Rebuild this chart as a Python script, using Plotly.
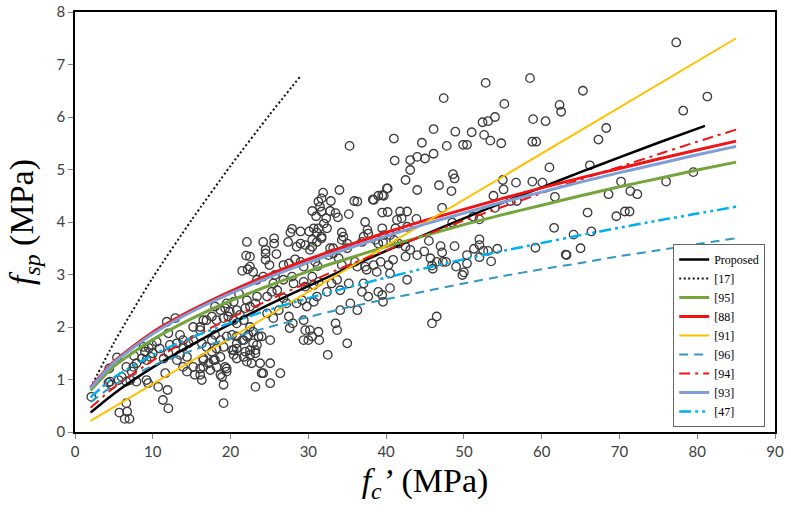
import plotly.graph_objects as go

# ---------------- data ----------------
# Experimental points: f'c (MPa) and f_sp (MPa)
exp_fc = [
    77.3, 65.3, 81.3, 78.2, 68.3, 67.3, 66.2, 79.5, 70.2, 76.0, 71.4, 72.3, 68.6, 65.9, 70.7, 71.3, 69.6, 64.1, 66.4, 65.0, 63.2,
    58.5, 52.8, 47.4, 55.2, 62.3, 62.5, 54.0, 58.9, 60.5, 52.4, 53.1, 46.1, 48.9, 51.0, 52.6, 53.4, 44.6, 47.8, 49.9, 50.4,
    54.8, 58.8, 59.3, 45.0, 46.1, 61.0, 48.6, 48.8, 46.8, 48.4, 55.0, 55.1, 56.7, 58.8, 60.1, 53.8, 61.7, 47.2, 56.8, 56.0,
    54.0, 48.5, 52.0, 51.2, 61.6, 45.5, 52.0, 52.0, 47.0, 47.2, 44.9, 48.8, 51.3, 52.5, 53.1, 54.3, 59.2, 63.1, 50.4, 52.0,
    45.7, 46.5, 47.3, 47.7, 45.9, 46.0, 49.0, 50.4, 53.5, 49.8, 50.0, 46.5, 45.9,
    35.3, 41.0, 41.1, 43.1, 44.0, 43.1, 42.5, 44.0, 34.0, 31.9, 31.7, 31.3, 31.5, 31.7, 32.9, 35.9, 39.0, 39.7, 40.2, 38.3,
    30.5, 31.0, 32.8, 33.5, 32.3, 32.0, 33.8, 35.2, 39.5, 40.2, 41.8, 42.7, 41.4, 42.0, 43.9, 37.3, 27.9, 27.7, 29.0, 30.1,
    30.7, 31.3, 31.1, 31.7, 32.4, 34.3, 34.5, 37.6, 37.7, 39.5, 39.7, 41.2, 42.7, 24.2, 25.6, 25.6, 27.4, 28.5, 29.0, 29.6,
    30.5, 30.5, 31.1, 31.7, 30.2, 32.8, 33.2, 34.3, 35.0, 35.0, 36.9, 37.1, 38.6, 39.0, 39.6, 40.5, 41.0, 41.6, 42.5, 43.1,
    44.0, 42.5, 24.5, 24.5, 25.0, 25.9, 26.8, 27.5, 28.3, 29.0, 29.4, 30.9, 31.2, 32.6, 33.2, 33.9, 34.3, 36.0, 36.3, 37.3,
    37.5, 38.4, 38.8, 39.3, 40.3, 40.9, 40.5, 42.7, 22.5, 22.9, 23.4, 24.2, 25.7, 25.5, 26.0, 26.8, 27.9, 28.1, 29.4, 29.6,
    30.5, 30.7, 31.3, 32.4, 33.0, 33.7, 34.1, 35.2, 36.9, 37.1, 37.7, 39.0, 39.5, 39.6, 40.5, 23.4, 23.2, 24.7, 25.3, 26.8,
    27.2, 28.5, 29.2, 29.8, 30.7, 31.1, 34.1, 35.4, 36.3, 24.7, 25.5, 27.5, 28.0, 27.6, 29.4, 29.6, 30.2, 30.5, 29.4, 30.0,
    31.3, 31.4, 33.5, 33.7, 35.0, 32.5, 22.5, 22.9, 23.6, 23.4, 23.2, 22.5, 22.7, 25.1, 25.1, 24.2, 26.4, 25.1, 23.2, 22.5,
    22.5, 26.2,
    22.0, 21.5, 22.2, 21.1, 20.4, 19.5, 22.1, 18.0, 18.7, 19.3, 19.9, 20.8, 21.2, 21.9, 16.9, 17.6, 18.2, 19.1, 19.7, 20.4,
    20.8, 21.7, 11.8, 12.9, 15.2, 16.1, 12.0, 13.5, 13.9, 10.5, 9.9, 10.9, 12.2, 13.1, 13.9, 14.6, 15.2, 18.0, 17.6, 18.7,
    19.5, 20.2, 20.8, 21.5, 22.1, 16.9, 17.6, 18.2, 19.1, 20.2, 20.8, 21.9, 9.7, 9.2, 8.6, 7.9, 7.5, 6.6, 7.3, 5.4, 4.4,
    5.6, 6.0, 6.6, 7.1, 4.5, 4.7, 7.9, 9.2, 9.4, 10.7, 11.6, 11.9, 11.3, 12.0, 2.1, 6.6, 5.7, 6.4, 7.0, 13.9, 15.2, 16.1,
    14.4, 15.4, 16.5, 17.2, 17.8, 16.5, 17.4, 18.2, 18.7, 19.5, 19.1, 20.4, 20.8, 21.7, 22.1, 19.1, 13.1, 11.4, 9.0, 12.0,
    13.5, 14.4, 4.3, 6.7, 16.5, 16.1, 16.3, 16.5, 16.1, 16.3, 18.0, 18.7, 19.3, 18.9, 19.5, 20.4, 20.8, 21.7, 22.5, 23.2,
    23.8, 24.0, 24.0, 22.9, 22.3, 24.5, 22.1, 40.1, 39.5, 38.4, 36.3, 8.8, 9.5, 10.0, 7.6,
]
exp_fsp = [
    7.42, 6.50, 6.39, 6.12, 5.79, 5.57, 5.08, 4.95, 4.77, 4.77, 4.59, 4.53, 4.53, 4.18, 4.20, 4.20, 4.11, 3.76, 3.82, 3.50, 3.37,
    6.74, 6.65, 6.36, 6.25, 6.23, 6.10, 6.00, 5.96, 5.92, 5.90, 5.92, 5.77, 5.72, 5.71, 5.66, 5.55, 5.51, 5.45, 5.47, 5.47,
    5.50, 5.53, 5.53, 5.21, 5.30, 5.04, 4.91, 4.83, 4.70, 4.59, 4.80, 4.62, 4.75, 4.77, 4.75, 4.50, 4.48, 4.27, 4.40, 4.40,
    4.27, 3.99, 4.05, 4.10, 3.89, 3.64, 3.67, 3.56, 3.54, 3.42, 3.44, 3.54, 3.49, 3.45, 3.45, 3.49, 3.51, 3.38, 3.37, 3.33,
    3.31, 3.24, 3.24, 3.24, 3.17, 3.11, 3.15, 3.21, 3.25, 2.99, 3.04, 2.20, 2.07,
    5.45, 5.59, 5.17, 5.18, 5.24, 4.99, 4.80, 4.61, 4.61, 4.56, 4.45, 4.39, 4.29, 4.20, 4.40, 4.40, 4.50, 4.50, 4.64, 4.43,
    4.21, 4.11, 4.21, 4.17, 4.07, 3.97, 4.09, 4.15, 4.18, 4.19, 4.20, 4.20, 4.04, 4.07, 4.06, 4.00, 3.87, 3.80, 3.82, 3.82,
    3.88, 3.88, 3.80, 3.72, 3.88, 3.80, 3.72, 3.85, 3.78, 3.88, 3.75, 3.88, 3.91, 3.62, 3.69, 3.59, 3.62, 3.53, 3.59, 3.56,
    3.66, 3.53, 3.62, 3.69, 3.47, 3.50, 3.50, 3.66, 3.59, 3.50, 3.62, 3.72, 3.66, 3.59, 3.62, 3.75, 3.66, 3.59, 3.53, 3.47,
    3.37, 3.34, 3.40, 3.28, 3.18, 3.39, 3.18, 3.21, 3.29, 3.24, 3.15, 3.24, 3.16, 3.37, 3.40, 3.31, 3.18, 3.24, 3.15, 3.15,
    3.09, 3.18, 3.05, 3.24, 3.18, 3.28, 3.02, 2.90, 3.15, 3.05, 2.90, 2.96, 2.99, 2.83, 2.70, 2.90, 2.96, 2.83, 2.86, 2.77,
    2.96, 2.80, 2.86, 2.67, 2.83, 2.90, 2.70, 2.83, 2.67, 2.83, 2.58, 2.67, 2.61, 2.48, 2.74, 2.58, 2.45, 2.58, 2.67, 2.55,
    2.45, 2.45, 2.51, 2.39, 2.48, 2.58, 2.32, 2.45, 2.32, 2.26, 2.17, 2.20, 2.07, 1.98, 2.13, 1.94, 1.94, 1.82, 1.75, 1.75,
    1.91, 1.75, 2.07, 1.94, 1.69, 1.47, 2.00, 1.91, 1.82, 1.66, 1.56, 1.47, 1.31, 1.75, 1.31, 1.12, 1.12, 0.93, 0.86, 3.34,
    2.39, 2.32,
    3.36, 3.07, 3.10, 2.63, 2.48, 2.45, 2.51, 2.39, 2.32, 2.36, 2.29, 2.32, 2.23, 2.36, 2.13, 2.20, 2.13, 2.17, 2.20, 2.13,
    2.07, 2.13, 2.10, 2.17, 2.00, 1.94, 1.88, 1.85, 1.75, 1.72, 1.66, 1.59, 1.66, 1.69, 1.62, 1.69, 1.75, 1.85, 1.75, 1.75,
    1.82, 1.85, 1.82, 1.75, 1.82, 1.62, 1.53, 1.59, 1.62, 1.56, 1.59, 1.53, 1.43, 1.37, 1.40, 1.31, 1.24, 1.24, 1.15, 1.42, 1.21,
    0.99, 1.05, 0.96, 0.99, 0.96, 0.90, 0.96, 0.99, 0.93, 0.86, 1.12, 0.80, 0.61, 0.45, 0.67, 0.55, 0.37, 0.25, 0.25, 1.24, 1.24, 1.21,
    1.15, 1.09, 1.40, 1.31, 1.37, 1.24, 1.18, 1.24, 1.09, 1.15, 0.90, 1.47, 1.40, 1.43, 1.34, 0.55, 1.37, 1.40, 1.53, 1.50,
    1.47, 1.43, 0.94, 0.39, 2.13, 2.00, 1.69, 1.37, 1.09, 0.99, 1.37, 1.43, 1.24, 1.05, 1.21, 1.56, 1.69, 1.75, 1.56, 1.50,
    1.31, 1.12, 1.82, 1.69, 1.85, 3.47, 3.62, 4.64, 4.51, 4.42, 4.39, 1.62, 1.60, 1.50, 1.45,
]

# Prediction curves
fc_grid = [2, 5, 10, 15, 20, 25, 30, 35, 40, 45, 50, 55, 60, 65, 70, 75, 80, 85]
fc_prop = [2, 5, 10, 15, 20, 25, 30, 35, 40, 45, 50, 55, 60, 65, 70, 75, 81]
proposed = [0.37, 0.73, 1.23, 1.66, 2.06, 2.43, 2.78, 3.12, 3.45, 3.76, 4.07, 4.37, 4.66, 4.95, 5.23, 5.51, 5.83]
fc_17 = [2, 5, 10, 15, 20, 25, 29]
ref17 = [0.84, 1.70, 2.94, 4.04, 5.07, 6.04, 6.78]
ref95 = [0.79, 1.25, 1.76, 2.16, 2.50, 2.79, 3.06, 3.30, 3.53, 3.74, 3.95, 4.14, 4.32, 4.50, 4.67, 4.83, 4.99, 5.14]
ref88 = [0.85, 1.34, 1.90, 2.32, 2.68, 3.00, 3.29, 3.55, 3.80, 4.03, 4.24, 4.45, 4.65, 4.84, 5.02, 5.20, 5.37, 5.54]
fc_91 = [2, 85]
ref91 = [0.21, 7.50]
ref96 = [0.57, 0.89, 1.26, 1.55, 1.79, 2.00, 2.19, 2.37, 2.53, 2.68, 2.83, 2.97, 3.10, 3.22, 3.35, 3.46, 3.58, 3.69]
ref94 = [0.46, 0.85, 1.36, 1.79, 2.17, 2.52, 2.85, 3.17, 3.46, 3.75, 4.03, 4.29, 4.55, 4.81, 5.05, 5.29, 5.53, 5.76]
ref93 = [0.83, 1.32, 1.87, 2.29, 2.64, 2.95, 3.23, 3.49, 3.73, 3.96, 4.17, 4.38, 4.57, 4.76, 4.94, 5.11, 5.28, 5.44]
ref47 = [0.66, 1.04, 1.47, 1.80, 2.08, 2.33, 2.55, 2.75, 2.94, 3.12, 3.29, 3.45, 3.60, 3.75, 3.89, 4.03, 4.16, 4.29]

x_ticks = [0, 10, 20, 30, 40, 50, 60, 70, 80, 90]
y_ticks = [0, 1, 2, 3, 4, 5, 6, 7, 8]

# ---------------- figure ----------------
fig = go.Figure()

fig.add_trace(go.Scatter(
    x=exp_fc, y=exp_fsp, mode="markers", showlegend=False, name="Experimental",
    marker=dict(symbol="circle-open", size=8.5, color="#3a3a3a", line=dict(width=1.3)),
))

series = [
    ("Proposed", fc_prop, proposed, dict(color="#000000", width=2.5, dash="solid")),
    ("[17]", fc_17, ref17, dict(color="#111111", width=2, dash="2px,2.5px")),
    ("[95]", fc_grid, ref95, dict(color="#74a53c", width=3, dash="solid")),
    ("[88]", fc_grid, ref88, dict(color="#f01414", width=3, dash="solid")),
    ("[91]", fc_91, ref91, dict(color="#ffc000", width=2, dash="solid")),
    ("[96]", fc_grid, ref96, dict(color="#3497c2", width=2, dash="9px,6px")),
    ("[94]", fc_grid, ref94, dict(color="#f01414", width=2, dash="11px,5px,3px,5px")),
    ("[93]", fc_grid, ref93, dict(color="#7f9ed6", width=3, dash="solid")),
    ("[47]", fc_grid, ref47, dict(color="#00b0f0", width=2.5, dash="12px,4px,3px,4px,3px,4px")),
]
for name, xs, ys, ln in series:
    fig.add_trace(go.Scatter(x=xs, y=ys, mode="lines", name=name,
                             line=dict(shape="spline", smoothing=0.6, **ln)))

axis_common = dict(
    showgrid=False, zeroline=False, showline=True, mirror=True,
    linecolor="#000000", linewidth=1.5,
    ticks="outside", ticklen=5, tickcolor="#808080", tickwidth=1,
    tickfont=dict(family="Lato, Open Sans, sans-serif", size=15, color="#404040"),
    automargin=False,
)
title_font = dict(family="Liberation Serif, Times New Roman, serif", size=34, color="#000")

fig.update_layout(
    width=791, height=518,
    margin=dict(l=75, r=16, t=12, b=86),
    paper_bgcolor="white", plot_bgcolor="white",
    xaxis=dict(range=[0, 90], tickvals=x_ticks,
               title=dict(text="<i>f</i><sub><i>c</i></sub><i>’</i> (MPa)", font=title_font, standoff=9),
               **axis_common),
    yaxis=dict(range=[0, 8], tickvals=y_ticks, ticksuffix="\u2002\u00a0",
               title=dict(text="<i>f</i><sub><i>sp</i></sub> (MPa)", font=title_font, standoff=13),
               **axis_common),
    legend=dict(
        x=0.986, y=0.012, xanchor="right", yanchor="bottom",
        bgcolor="white", bordercolor="#666666", borderwidth=1,
        font=dict(family="Liberation Serif, Times New Roman, serif", size=12, color="#000"),
        tracegroupgap=0, itemwidth=30,
    ),
)

fig.write_html("out.html", config={"displayModeBar": False},
               post_script="document.body.style.margin='0';")
